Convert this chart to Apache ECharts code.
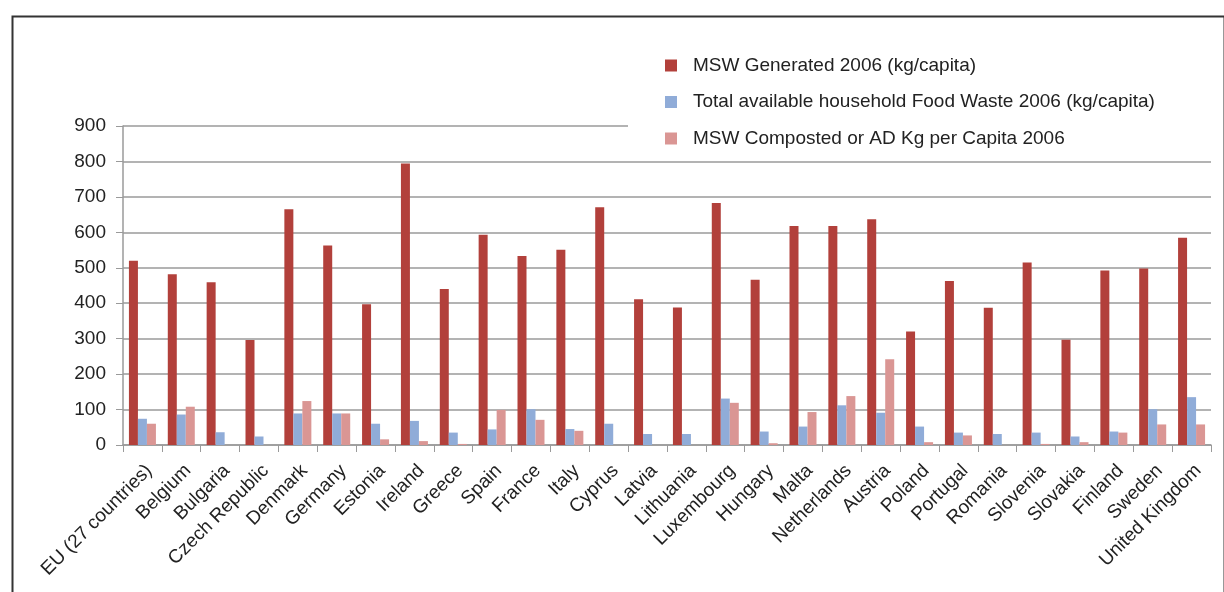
<!DOCTYPE html>
<html>
<head>
<meta charset="utf-8">
<script src="https://cdn.jsdelivr.net/npm/echarts@6/dist/echarts.min.js"></script>
<style>
  html, body { margin: 0; padding: 0; background: #fff; }
  #chart { width: 1224px; height: 592px; }
</style>
</head>
<body>
<div id="chart"></div>
<script>
const countries = [
  'EU (27 countries)', 'Belgium', 'Bulgaria', 'Czech Republic', 'Denmark', 'Germany', 'Estonia',
  'Ireland', 'Greece', 'Spain', 'France', 'Italy', 'Cyprus', 'Latvia', 'Lithuania', 'Luxembourg',
  'Hungary', 'Malta', 'Netherlands', 'Austria', 'Poland', 'Portugal', 'Romania', 'Slovenia',
  'Slovakia', 'Finland', 'Sweden', 'United Kingdom'
]
const mswGenerated = [
  520, 482, 459, 296, 665, 563, 397,
  794, 440, 593, 533, 551, 671, 411, 388, 683,
  466, 618, 618, 637, 320, 463, 387, 515,
  297, 492, 498, 585
]
const foodWaste = [
  74, 86, 36, 24, 89, 89, 60,
  68, 35, 44, 101, 45, 60, 31, 31, 131,
  38, 52, 112, 91, 52, 35, 31, 35,
  24, 38, 101, 135
]
const composted = [
  60, 108, 0, 0, 124, 89, 16,
  11, 3, 99, 71, 40, 0, 0, 0, 119,
  5, 93, 138, 242, 8, 27, 0, 3,
  8, 35, 58, 58
]
const seriesNames = [
  'MSW Generated 2006 (kg/capita)',
  'Total available household Food Waste 2006 (kg/capita)',
  'MSW Composted or AD Kg per Capita 2006'
]
const colors = ['#b2403b', '#90acd8', '#da9694']
const font = "'Liberation Sans', Arial, sans-serif"

const chart = echarts.init(document.getElementById('chart'))

const barSeries = (name, data, color) => ({
  name,
  type: 'bar',
  data,
  barWidth: 9,
  barGap: '0%',
  itemStyle: { color },
  emphasis: { disabled: true }
})

chart.setOption({
  animation: false,
  backgroundColor: '#fff',
  textStyle: { fontFamily: font },
  // outer frame round the figure, drawn above the legend box
  graphic: [{
    type: 'rect',
    left: 10,
    top: 14,
    shape: { width: 1212, height: 620 },
    style: { fill: 'none', stroke: '#333', lineWidth: 2 },
    z: 100
  }],
  legend: {
    orient: 'vertical',
    left: 628,
    top: 43,
    padding: [13, 120, 8, 37],
    backgroundColor: '#fff',
    itemWidth: 12,
    itemHeight: 12,
    itemGap: 17.5,
    icon: 'rect',
    textStyle: { fontSize: 19, color: '#222', fontFamily: font, padding: [0, 0, 0, 11] },
    data: seriesNames
  },
  grid: { left: 123, right: 13, top: 126, bottom: 147 },
  xAxis: {
    type: 'category',
    data: countries,
    axisLine: { lineStyle: { color: '#9a9a9a', width: 1.5 } },
    axisTick: { show: true, length: 7, interval: 0, lineStyle: { color: '#9a9a9a' } },
    axisLabel: {
      interval: 0,
      rotate: 45,
      margin: 16,
      verticalAlign: 'top',
      fontSize: 19,
      color: '#222',
      fontFamily: font
    }
  },
  yAxis: {
    type: 'value',
    min: 0,
    max: 900,
    interval: 100,
    axisLine: { show: true, lineStyle: { color: '#9a9a9a', width: 1.5 } },
    axisTick: { show: true, length: 7, lineStyle: { color: '#9a9a9a' } },
    axisLabel: { fontSize: 19, color: '#222', margin: 17, fontFamily: font },
    splitLine: { lineStyle: { color: '#9a9a9a', width: 1.5 } }
  },
  series: [
    barSeries(seriesNames[0], mswGenerated, colors[0]),
    barSeries(seriesNames[1], foodWaste, colors[1]),
    barSeries(seriesNames[2], composted, colors[2])
  ]
})
</script>
</body>
</html>
